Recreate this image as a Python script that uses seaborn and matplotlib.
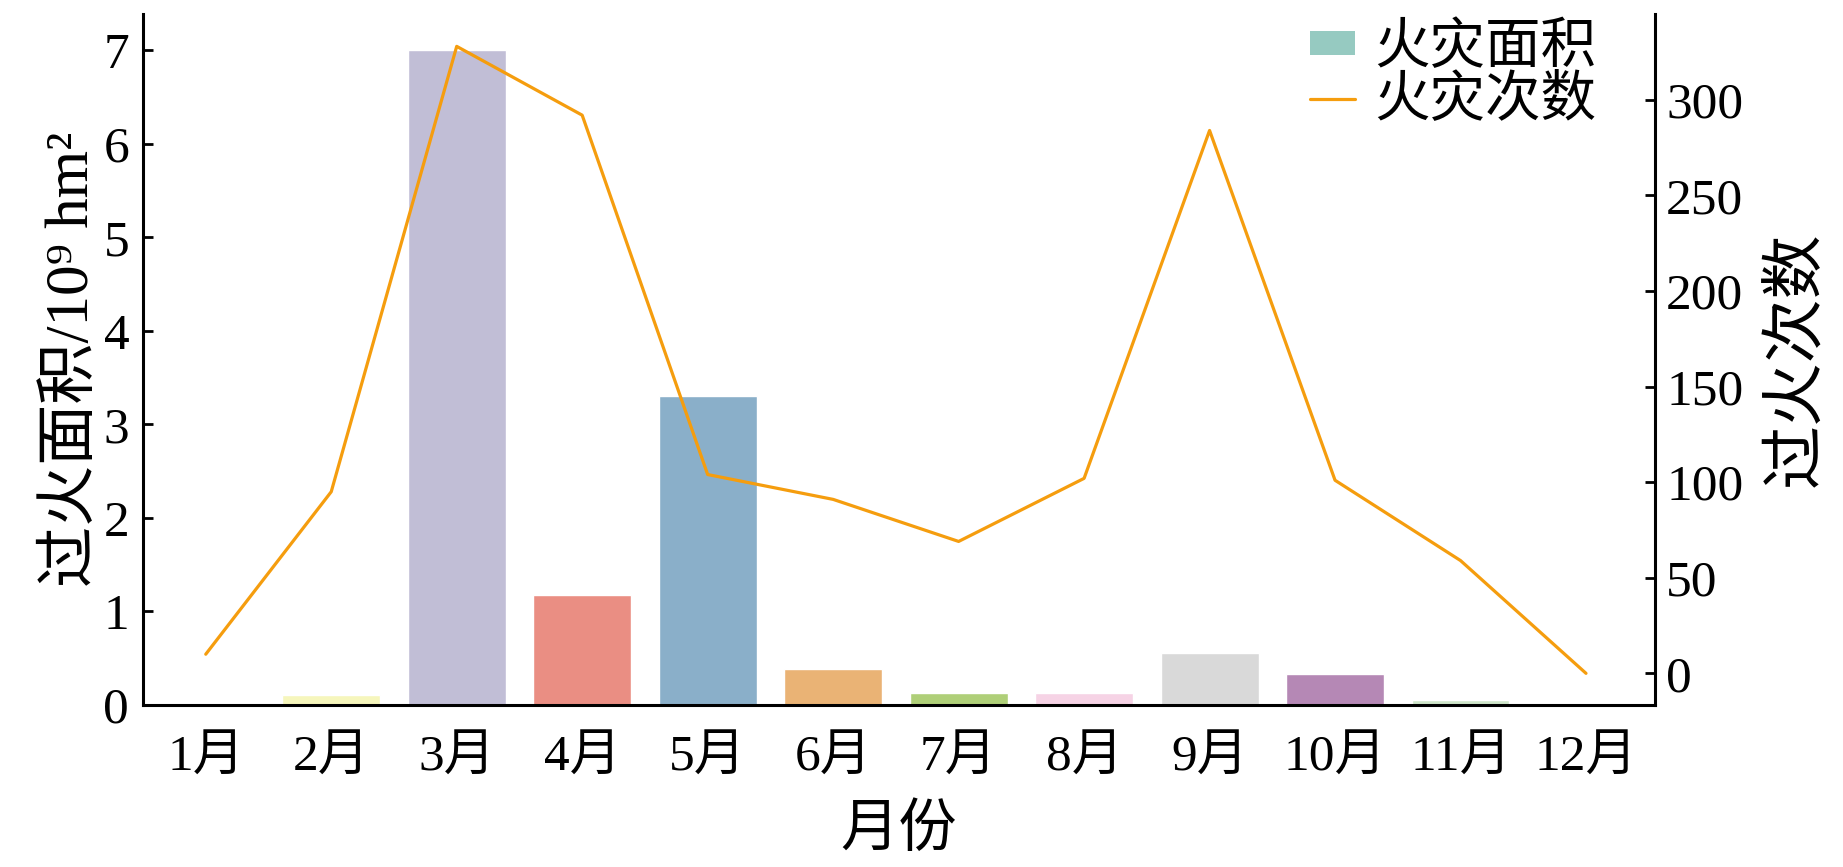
import numpy as np
import matplotlib
matplotlib.use("Agg")
import matplotlib.pyplot as plt
import seaborn as sns
from matplotlib.patches import Patch
from matplotlib.lines import Line2D

# Data
months = ["1月", "2月", "3月", "4月", "5月", "6月", "7月", "8月", "9月", "10月", "11月", "12月"]
fire_area = [0.01, 0.11, 7.0, 1.18, 3.30, 0.38, 0.13, 0.13, 0.55, 0.33, 0.05, 0.005]
fire_count = [10, 95, 328, 292, 104, 91, 69, 102, 284, 101, 59, 0]

sns.set_style("white")
plt.rcParams['font.family'] = ['Liberation Serif', 'DejaVu Serif', 'Noto Sans CJK SC']
plt.rcParams['text.color'] = 'black'
plt.rcParams['axes.labelcolor'] = 'black'
plt.rcParams['xtick.color'] = 'black'
plt.rcParams['ytick.color'] = 'black'

fig = plt.figure(figsize=(18.43, 8.67), dpi=100)
ax = fig.add_axes([0.0776, 0.187, 0.8204, 0.797])

palette = sns.color_palette("Set3", len(months))
sns.barplot(x=months, y=fire_area, hue=months, palette=palette, legend=False,
            width=0.78, saturation=0.75, ax=ax)
ax.set_ylim(0, 7.39)
ax.set_xlim(-0.5, 11.55)
ax.set_yticks(range(0, 8))

line_color = "#F59D0E"
ax2 = ax.twinx()
sns.lineplot(x=np.arange(len(months)), y=fire_count, color=line_color, linewidth=2.3, ax=ax2)
ax2.set_ylim(-16.5, 345)
ax2.set_yticks(range(0, 301, 50))
ax2.set_xlim(-0.5, 11.55)

fs = 37
ax.set_xlabel("月份", fontsize=42, labelpad=16)
ax.set_ylabel("过火面积/10⁹ hm²", fontsize=44, labelpad=2)
ax2.set_ylabel("过火次数", fontsize=46, labelpad=18)

ax.tick_params(axis='y', direction='in', length=7, width=2, labelsize=fs, pad=10)
ax.tick_params(axis='x', length=0, labelsize=fs, pad=22)
ax2.tick_params(axis='y', direction='in', length=7, width=2, labelsize=fs, pad=8)

for a in (ax, ax2):
    a.spines['top'].set_visible(False)
    for s in ('left', 'right', 'bottom'):
        a.spines[s].set_linewidth(2.2)
        a.spines[s].set_color('black')
ax.spines['right'].set_visible(False)
ax2.spines['left'].set_visible(False)
ax2.spines['bottom'].set_visible(False)

sat_colors = [sns.desaturate(c, 0.75) for c in palette]
handles = [Patch(facecolor=sat_colors[0], edgecolor='none'),
           Line2D([0], [0], color=line_color, linewidth=2.3)]
ax2.legend(handles, ["火灾面积", "火灾次数"], loc='upper right', bbox_to_anchor=(0.983, 1.035),
           frameon=False, fontsize=40, handlelength=0.8, handleheight=0.3,
           handletextpad=0.35, labelspacing=0.0, borderaxespad=0.2)

fig.savefig("out.png", dpi=100)
